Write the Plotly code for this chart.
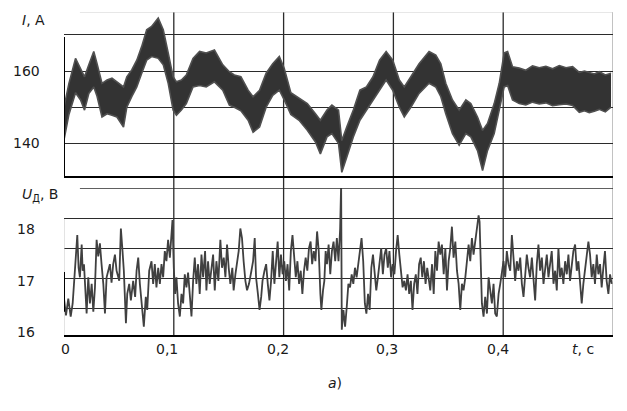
import plotly.graph_objects as go

# --- current I(t): upper / lower edges of the noisy band
t_band = [0.0000, 0.0045, 0.0105, 0.0151, 0.0187, 0.0226, 0.0271, 0.0301, 0.0346, 0.0392,
          0.0437, 0.0482, 0.0542, 0.0572, 0.0617, 0.0663, 0.0708, 0.0753, 0.0798, 0.0858,
          0.0904, 0.0949, 0.0994, 0.1024, 0.1069, 0.1114, 0.1175, 0.1235, 0.1295, 0.1370,
          0.1446, 0.1506, 0.1551, 0.1611, 0.1677, 0.1722, 0.1781, 0.1841, 0.1901, 0.1961,
          0.2006, 0.2066, 0.2141, 0.2216, 0.2290, 0.2335, 0.2395, 0.2440, 0.2500, 0.2530,
          0.2575, 0.2635, 0.2695, 0.2754, 0.2814, 0.2874, 0.2934, 0.2994, 0.3054, 0.3099,
          0.3159, 0.3234, 0.3325, 0.3386, 0.3432, 0.3477, 0.3538, 0.3599, 0.3660, 0.3705,
          0.3766, 0.3812, 0.3857, 0.3918, 0.3964, 0.4009, 0.4040, 0.4085, 0.4146, 0.4206,
          0.4267, 0.4328, 0.4389, 0.4450, 0.4511, 0.4572, 0.4632, 0.4693, 0.4740, 0.4784,
          0.4830, 0.4875, 0.4930, 0.4982]
i_upper = [150.0, 156.6, 163.5, 160.7, 158.4, 161.7, 165.4, 162.0, 156.6, 157.5,
           158.0, 157.0, 155.6, 158.4, 160.3, 163.0, 166.8, 171.4, 172.3, 174.6,
           171.4, 165.0, 158.4, 157.0, 157.5, 158.9, 163.5, 165.4, 165.0, 165.8,
           161.7, 159.8, 158.9, 158.4, 154.7, 152.9, 154.7, 159.4, 162.0, 164.0,
           160.7, 154.0, 152.4, 151.0, 148.2, 146.4, 149.2, 150.6, 149.2, 140.8,
           144.5, 149.2, 154.7, 155.6, 158.4, 163.0, 165.4, 163.0, 157.5, 155.6,
           158.4, 162.0, 165.4, 164.4, 162.0, 156.6, 152.0, 149.2, 152.0, 151.0,
           147.3, 143.6, 145.5, 151.0, 156.6, 165.0, 165.4, 161.2, 160.8, 160.2,
           161.4, 160.9, 161.3, 160.6, 161.5, 160.9, 161.2, 159.6, 160.0, 159.6,
           159.2, 159.8, 158.9, 159.4]
i_lower = [141.0, 148.0, 154.0, 152.0, 149.2, 153.8, 155.6, 153.0, 147.3, 148.2,
           147.8, 147.3, 144.5, 150.0, 152.9, 155.6, 159.4, 163.0, 164.0, 163.5,
           161.7, 156.6, 149.2, 147.8, 149.2, 151.0, 155.6, 156.0, 155.6, 157.0,
           154.7, 150.6, 150.0, 149.0, 146.4, 143.1, 144.5, 150.0, 153.3, 154.7,
           152.0, 148.0, 146.4, 143.6, 140.4, 137.1, 141.8, 142.7, 140.0, 132.0,
           136.2, 141.8, 146.4, 149.2, 152.0, 155.0, 157.5, 154.7, 150.0, 147.3,
           150.0, 153.8, 156.6, 155.6, 152.9, 148.2, 142.7, 139.5, 142.7, 141.8,
           138.0, 132.5, 138.0, 142.7, 149.2, 155.6, 156.0, 152.0, 151.0, 150.6,
           151.4, 150.9, 151.2, 150.4, 150.7, 150.9, 150.5, 148.6, 149.0, 148.5,
           148.9, 149.4, 148.7, 150.0]

# --- arc voltage U(t)
t_u = [0.0000, 0.0018, 0.0039, 0.0061, 0.0079, 0.0091, 0.0109, 0.0121, 0.0133, 0.0145,
       0.0161, 0.0170, 0.0182, 0.0194, 0.0206, 0.0221, 0.0236, 0.0252, 0.0267, 0.0282,
       0.0297, 0.0312, 0.0327, 0.0342, 0.0358, 0.0373, 0.0388, 0.0403, 0.0418, 0.0433,
       0.0448, 0.0464, 0.0479, 0.0503, 0.0518, 0.0533, 0.0545, 0.0564, 0.0576, 0.0594,
       0.0609, 0.0630, 0.0648, 0.0661, 0.0676, 0.0691, 0.0709, 0.0727, 0.0745, 0.0758,
       0.0776, 0.0797, 0.0812, 0.0827, 0.0842, 0.0858, 0.0873, 0.0888, 0.0903, 0.0918,
       0.0933, 0.0948, 0.0964, 0.0979, 0.0988, 0.1000, 0.1012, 0.1024, 0.1039, 0.1055,
       0.1070, 0.1085, 0.1100, 0.1115, 0.1130, 0.1145, 0.1161, 0.1176, 0.1191, 0.1206,
       0.1221, 0.1236, 0.1252, 0.1267, 0.1285, 0.1297, 0.1312, 0.1327, 0.1342, 0.1358,
       0.1373, 0.1388, 0.1406, 0.1424, 0.1439, 0.1455, 0.1470, 0.1485, 0.1500, 0.1515,
       0.1533, 0.1545, 0.1561, 0.1576, 0.1591, 0.1606, 0.1621, 0.1636, 0.1652, 0.1667,
       0.1685, 0.1707, 0.1722, 0.1737, 0.1749, 0.1766, 0.1781, 0.1796, 0.1808, 0.1826,
       0.1841, 0.1856, 0.1871, 0.1886, 0.1901, 0.1916, 0.1931, 0.1946, 0.1961, 0.1976,
       0.1991, 0.2006, 0.2021, 0.2036, 0.2051, 0.2066, 0.2081, 0.2096, 0.2111, 0.2126,
       0.2141, 0.2156, 0.2171, 0.2186, 0.2201, 0.2216, 0.2231, 0.2246, 0.2260, 0.2275,
       0.2290, 0.2305, 0.2320, 0.2335, 0.2344, 0.2359, 0.2371, 0.2383, 0.2395, 0.2410,
       0.2425, 0.2440, 0.2455, 0.2470, 0.2485, 0.2500, 0.2515, 0.2524, 0.2530, 0.2545,
       0.2560, 0.2575, 0.2590, 0.2605, 0.2620, 0.2635, 0.2650, 0.2665, 0.2680, 0.2695,
       0.2710, 0.2725, 0.2740, 0.2754, 0.2769, 0.2784, 0.2799, 0.2814, 0.2829, 0.2844,
       0.2859, 0.2874, 0.2889, 0.2904, 0.2919, 0.2934, 0.2949, 0.2964, 0.2979, 0.2994,
       0.3009, 0.3024, 0.3039, 0.3054, 0.3069, 0.3084, 0.3099, 0.3114, 0.3129, 0.3144,
       0.3159, 0.3174, 0.3189, 0.3204, 0.3219, 0.3234, 0.3249, 0.3263, 0.3278, 0.3293,
       0.3308, 0.3321, 0.3336, 0.3352, 0.3367, 0.3382, 0.3397, 0.3412, 0.3427, 0.3442,
       0.3458, 0.3473, 0.3488, 0.3503, 0.3518, 0.3533, 0.3548, 0.3564, 0.3579, 0.3594,
       0.3609, 0.3624, 0.3639, 0.3655, 0.3670, 0.3685, 0.3700, 0.3715, 0.3730, 0.3745,
       0.3761, 0.3776, 0.3785, 0.3797, 0.3806, 0.3821, 0.3836, 0.3852, 0.3867, 0.3882,
       0.3897, 0.3912, 0.3927, 0.3942, 0.3958, 0.3973, 0.3988, 0.4003, 0.4018, 0.4033,
       0.4048, 0.4064, 0.4079, 0.4094, 0.4109, 0.4124, 0.4139, 0.4155, 0.4170, 0.4185,
       0.4200, 0.4215, 0.4230, 0.4245, 0.4261, 0.4276, 0.4291, 0.4306, 0.4321, 0.4336,
       0.4352, 0.4367, 0.4382, 0.4397, 0.4412, 0.4427, 0.4442, 0.4458, 0.4473, 0.4488,
       0.4503, 0.4518, 0.4533, 0.4548, 0.4564, 0.4579, 0.4594, 0.4609, 0.4624, 0.4639,
       0.4655, 0.4670, 0.4685, 0.4700, 0.4715, 0.4730, 0.4745, 0.4761, 0.4776, 0.4791,
       0.4806, 0.4821, 0.4836, 0.4852, 0.4867, 0.4882, 0.4897, 0.4912, 0.4927, 0.4942,
       0.4958, 0.4973, 0.4988]
u_vals = [16.66, 16.38, 16.66, 16.36, 16.58, 16.90, 17.46, 17.73, 17.18, 17.02,
          17.57, 17.13, 17.24, 16.74, 16.41, 17.02, 16.58, 16.91, 16.44, 16.85,
          17.65, 17.37, 17.59, 17.24, 16.91, 16.41, 17.02, 17.13, 17.24, 16.93,
          17.24, 17.40, 17.13, 16.96, 17.84, 17.46, 17.13, 16.25, 16.74, 16.91,
          16.63, 16.96, 16.69, 17.13, 17.35, 16.91, 16.58, 16.19, 16.69, 16.47,
          17.13, 17.29, 16.91, 17.24, 16.85, 17.18, 16.91, 17.24, 17.02, 17.46,
          17.29, 17.65, 17.35, 17.73, 17.98, 17.18, 16.74, 17.02, 16.58, 16.36,
          16.74, 16.58, 17.07, 16.85, 17.10, 16.74, 16.36, 16.96, 17.35, 16.91,
          17.24, 16.74, 17.40, 17.02, 17.46, 16.80, 17.29, 16.91, 17.13, 17.40,
          16.80, 17.29, 16.96, 17.65, 17.18, 17.35, 17.02, 17.57, 17.18, 16.91,
          17.18, 16.80, 17.07, 17.29, 17.46, 17.84, 17.68, 17.29, 16.96, 16.80,
          16.91, 17.13, 17.29, 17.68, 17.02, 16.74, 16.47, 16.69, 16.96, 17.13,
          17.24, 16.91, 16.63, 16.96, 17.46, 16.91, 17.24, 17.62, 17.02, 17.40,
          17.07, 17.29, 16.96, 17.24, 16.80, 17.46, 17.73, 17.40, 17.02, 17.29,
          16.91, 17.13, 16.74, 17.13, 17.35, 17.13, 17.51, 17.62, 17.24, 17.46,
          17.29, 17.79, 17.46, 16.74, 16.47, 16.80, 16.96, 17.46, 17.24, 17.57,
          17.07, 17.46, 17.62, 17.29, 17.68, 17.29, 17.84, 18.60, 16.14, 16.47,
          16.19, 16.52, 16.91, 16.85, 17.07, 16.91, 17.18, 17.02, 17.24, 17.51,
          17.68, 17.29, 16.58, 16.41, 16.74, 16.47, 17.18, 17.40, 17.07, 16.80,
          17.02, 17.29, 17.51, 17.07, 17.40, 17.51, 17.18, 17.46, 17.02, 17.24,
          17.07, 17.46, 17.73, 17.40, 17.13, 16.85, 16.96, 16.80, 17.07, 16.74,
          16.96, 16.47, 16.91, 17.07, 16.74, 17.24, 17.35, 17.02, 17.29, 16.91,
          17.18, 16.96, 16.80, 17.24, 16.74, 17.46, 17.13, 17.62, 17.40, 17.57,
          17.07, 17.51, 16.80, 17.29, 17.51, 17.87, 17.35, 17.62, 17.13, 16.91,
          16.47, 16.91, 16.80, 17.02, 17.29, 17.57, 17.29, 17.68, 17.40, 17.62,
          17.84, 18.06, 17.95, 17.18, 16.58, 16.36, 16.69, 16.41, 17.02, 16.80,
          16.58, 16.91, 16.41, 16.36, 16.74, 16.91, 17.13, 17.29, 17.02, 17.46,
          17.24, 17.13, 17.73, 17.24, 16.96, 17.29, 17.13, 17.35, 16.91, 16.69,
          17.07, 17.40, 17.18, 17.02, 17.35, 16.96, 16.63, 17.24, 17.57, 17.13,
          17.35, 16.91, 17.18, 17.40, 17.02, 17.29, 17.46, 16.91, 17.13, 16.80,
          17.51, 17.02, 17.18, 16.91, 17.29, 17.07, 17.40, 16.96, 17.18, 17.46,
          17.57, 17.13, 17.29, 16.91, 16.58, 16.91, 17.18, 17.46, 17.62, 17.40,
          17.02, 17.24, 16.91, 17.40, 17.07, 17.24, 16.85, 17.18, 17.46, 16.96,
          16.74, 17.07, 16.91]

x_ticks = ["0", "0,1", "0,2", "0,3", "0,4"]
x_tick_pos = [0.0036, 0.1885, 0.390, 0.588, 0.7905]
i_ticks = [140, 160]
u_ticks = ["16", "17", "18"]
u_tick_pos = [0.009, 0.167, 0.328]

FONT = "DejaVu Sans"
DARK = "#2b2b2b"

fig = go.Figure()

# current band (lower edge, then upper edge filled down to it)
fig.add_trace(go.Scatter(x=t_band, y=i_lower, mode="lines",
                         line=dict(color="#505050", width=1.6), xaxis="x", yaxis="y"))
fig.add_trace(go.Scatter(x=t_band, y=i_upper, mode="lines", fill="tonexty",
                         fillcolor="#333333", line=dict(color="#505050", width=1.6),
                         xaxis="x", yaxis="y"))

# voltage
fig.add_trace(go.Scatter(x=t_u, y=u_vals, mode="lines",
                         line=dict(color="#404040", width=1.8), xaxis="x2", yaxis="y2"))

grid = dict(showgrid=True, gridcolor=DARK, gridwidth=1.2, zeroline=False,
            showticklabels=False, ticks="")

# the page body adds an 8 px margin, so the figure is 8 px smaller than the window
fig.update_layout(
    width=619, height=403,
    margin=dict(l=56, r=14, t=4, b=76),
    paper_bgcolor="white", plot_bgcolor="white",
    showlegend=False,
    xaxis=dict(range=[0, 0.5], domain=[0, 1], anchor="y", showgrid=False,
               showticklabels=False, ticks="", zeroline=False,
               showline=True, linecolor="black", linewidth=2),
    xaxis2=dict(range=[0, 0.5], domain=[0, 1], anchor="y2", showgrid=False,
                showticklabels=False, ticks="", zeroline=False,
                showline=True, linecolor="black", linewidth=2),
    yaxis=dict(range=[131, 176.3], domain=[0.4923, 1], anchor="x",
               tickvals=[140, 150, 160, 170], **grid),
    yaxis2=dict(range=[16.05, 18.52], domain=[0, 0.4551], anchor="x2",
                tickvals=[16.5, 17, 17.5, 18], **grid),
)

# vertical grid lines run through both panels
for tv in [0.1, 0.2, 0.3, 0.4]:
    fig.add_shape(type="line", xref="x", yref="paper", x0=tv, x1=tv, y0=0, y1=1,
                  line=dict(color=DARK, width=1.3), layer="below")
# right border
fig.add_shape(type="line", xref="x", yref="paper", x0=0.5, x1=0.5, y0=0, y1=1,
              line=dict(color="#9a9a9a", width=1.2), layer="below")
# top borders of the panels
fig.add_shape(type="line", xref="x", yref="y", x0=0.0145, x1=0.5, y0=176.3, y1=176.3,
              line=dict(color="#d0d0d0", width=1.2))
fig.add_shape(type="line", xref="x2", yref="y2", x0=0.0145, x1=0.5, y0=18.52, y1=18.52,
              line=dict(color=DARK, width=1.3))
# short left axis pieces
fig.add_shape(type="line", xref="x", yref="y", x0=0, x1=0, y0=131, y1=169.4,
              line=dict(color="black", width=2))
fig.add_shape(type="line", xref="x2", yref="y2", x0=0, x1=0, y0=16.05, y1=18.0,
              line=dict(color="#c8c8c8", width=1))
fig.add_shape(type="line", xref="x2", yref="y2", x0=0, x1=0, y0=16.44, y1=17.11,
              line=dict(color="black", width=2))

lab = dict(family=FONT, size=14, color="#1a1a1a")
for txt, xp in zip(x_ticks, x_tick_pos):
    fig.add_annotation(text=txt, xref="paper", yref="paper", x=xp, y=-0.043,
                       xanchor="center", yanchor="middle", showarrow=False, font=lab)
for v in i_ticks:
    fig.add_annotation(text=str(v), xref="paper", yref="y", x=-0.040, y=v,
                       xanchor="right", yanchor="middle", showarrow=False, font=lab)
for txt, yp in zip(u_ticks, u_tick_pos):
    fig.add_annotation(text=txt, xref="paper", yref="paper", x=-0.049, y=yp,
                       xanchor="right", yanchor="middle", showarrow=False, font=lab)

fig.add_annotation(text="<i>I</i>, A", xref="paper", yref="paper", x=-0.080, y=0.975,
                   xanchor="left", yanchor="middle", showarrow=False, font=lab)
fig.add_annotation(text="<i>U</i><sub>Д</sub>, B", xref="paper", yref="paper", x=-0.080,
                   y=0.432, xanchor="left", yanchor="middle", showarrow=False, font=lab)
fig.add_annotation(text="<i>t</i>, c", xref="paper", yref="paper", x=0.945, y=-0.043,
                   xanchor="center", yanchor="middle", showarrow=False, font=lab)
fig.add_annotation(text="<i>а</i>)", xref="paper", yref="paper", x=0.4936, y=-0.1486,
                   xanchor="center", yanchor="middle", showarrow=False, font=lab)

fig.write_html("out.html")
